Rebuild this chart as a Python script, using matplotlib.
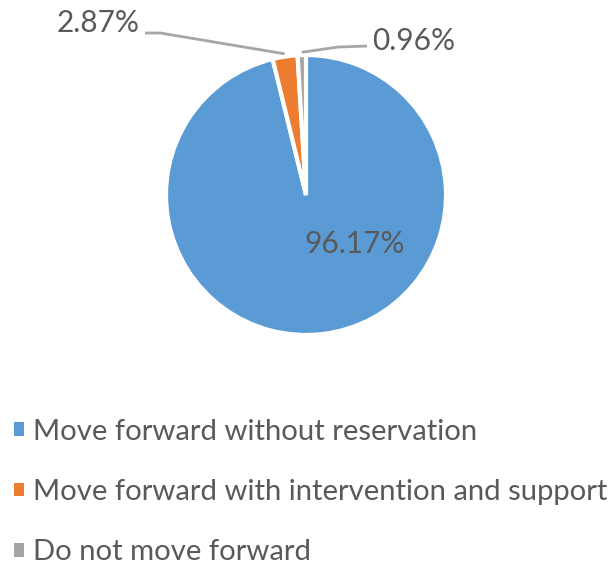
import numpy as np
import matplotlib.pyplot as plt
from matplotlib.patches import Patch

# Data.
labels = ["Move forward without reservation",
          "Move forward with intervention and support",
          "Do not move forward"]
shares = [96.17, 2.87, 0.96]
colors = ["#5B9BD5", "#ED7D31", "#A5A5A5"]

text_color = "#595959"
line_color = "#A6A6A6"
plt.rcParams['font.family'] = ['Lato', 'DejaVu Sans']

W, H = 616, 565
cx, cy, r = 306, 195, 140  # pie centre and radius in pixels (from top-left)

fig = plt.figure(figsize=(W / 100, H / 100), dpi=100)
ax = fig.add_axes([0, 0, 1, 1])

wedges, _ = ax.pie(shares, colors=colors, startangle=90, counterclock=False,
                   wedgeprops=dict(edgecolor="white", linewidth=3))
ax.set_xlim(-cx / r, (W - cx) / r)
ax.set_ylim(-(H - cy) / r, cy / r)
ax.set_aspect("equal")
ax.axis("off")


def mid_point(w, rad=1.02):
    a = np.deg2rad((w.theta1 + w.theta2) / 2)
    return rad * np.cos(a), rad * np.sin(a)


fs = 21.5
# big slice label
ax.text(0.35, -0.35, f"{shares[0]:.2f}%", fontsize=fs, color=text_color,
        ha="center", va="center")

# orange slice label with leader line
ox, oy = mid_point(wedges[1])
ax.plot([-1.15, -1.04, ox], [1.157, 1.157, oy], color=line_color, lw=2,
        solid_capstyle="butt", clip_on=False)
ax.text(-1.186, 1.226, f"{shares[1]:.2f}%", fontsize=fs, color=text_color,
        ha="right", va="center")

# grey slice label with leader line
gx, gy = mid_point(wedges[2])
ax.plot([0.436, 0.23, gx], [1.064, 1.057, gy], color=line_color, lw=2,
        solid_capstyle="butt", clip_on=False)
ax.text(0.471, 1.1, f"{shares[2]:.2f}%", fontsize=fs, color=text_color,
        ha="left", va="center")

lfs = 21.1
handles = [Patch(facecolor=c, edgecolor="none") for c in colors]
fig.legend(handles, labels, loc="center left",
           bbox_to_anchor=(14 / W, 1 - 492 / H), frameon=False,
           fontsize=lfs, labelcolor=text_color, handlelength=0.34,
           handleheight=0.34, handletextpad=0.31, labelspacing=1.17,
           borderpad=0, borderaxespad=0)

fig.savefig("out.png", dpi=100)
